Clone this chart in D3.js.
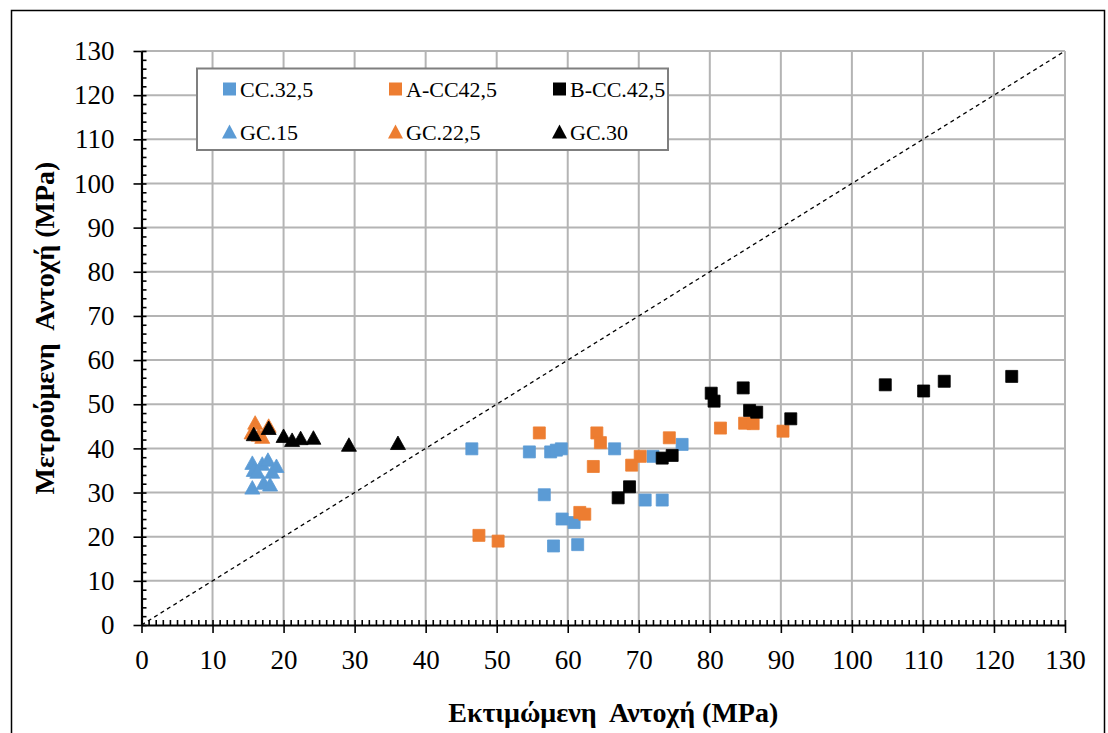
<!DOCTYPE html>
<html>
<head>
<meta charset="utf-8">
<script src="https://cdn.jsdelivr.net/npm/d3@7"></script>
<style>
  body { margin: 0; background: #fff; }
  svg text { font-family: "Liberation Serif", "Times New Roman", serif; fill: #000; }
</style>
</head>
<body>
<svg id="chart" width="1108" height="733"></svg>
<script>
// Estimated strength (x, MPa) vs measured strength (y, MPa), one array per mix
const cc325 = [
  [46.5, 39.9], [54.6, 39.2], [57.6, 39.2], [58.4, 39.6], [59.1, 39.9],
  [66.6, 39.9], [72.0, 38.2], [76.1, 40.9], [56.7, 29.5], [59.2, 24.0],
  [60.9, 23.2], [58.0, 17.9], [61.4, 18.2], [70.9, 28.3], [73.3, 28.3]
];
const acc425 = [
  [56.0, 43.5], [64.1, 43.5], [64.6, 41.3], [63.6, 35.9], [70.2, 38.2],
  [69.0, 36.2], [74.3, 42.4], [81.5, 44.6], [47.5, 20.3], [50.2, 19.0],
  [61.7, 25.5], [62.4, 25.1], [84.9, 45.7], [86.1, 45.6], [90.3, 43.9]
];
const bcc425 = [
  [67.1, 28.8], [68.7, 31.3], [73.3, 37.8], [74.7, 38.4], [80.2, 52.5],
  [80.6, 50.7], [84.7, 53.7], [85.6, 48.6], [86.6, 48.2], [91.4, 46.7],
  [104.7, 54.4], [110.1, 53.0], [113.0, 55.2], [122.5, 56.3]
];
const gc15 = [
  [15.6, 36.6], [17.0, 36.4], [17.8, 37.3], [19.0, 35.9], [15.8, 35.0],
  [16.3, 34.6], [18.4, 34.6], [15.6, 31.0], [17.2, 32.1], [18.1, 31.7]
];
const gc225 = [
  [16.0, 45.7], [17.9, 45.0], [15.5, 43.5], [17.0, 42.5], [16.5, 43.0]
];
const gc30 = [
  [15.8, 43.1], [17.9, 44.5], [20.0, 42.7], [21.2, 41.8], [22.4, 42.2],
  [24.2, 42.3], [29.2, 40.7], [36.1, 41.1]
];

const axisTicks = [0, 10, 20, 30, 40, 50, 60, 70, 80, 90, 100, 110, 120, 130];
const xMinorStep = 1;
const yMinorStep = 2;

const seriesNames = ["CC.32,5", "A-CC42,5", "B-CC.42,5", "GC.15", "GC.22,5", "GC.30"];
const seriesColors = ["#5b9bd5", "#ed7d31", "#000000", "#5b9bd5", "#ed7d31", "#000000"];
const seriesShapes = ["square", "square", "square", "triangle", "triangle", "triangle"];
const seriesData = [cc325, acc425, bcc425, gc15, gc225, gc30];

const xTitle = "Εκτιμώμενη  Αντοχή (MPa)";
const yTitle = "Μετρούμενη  Αντοχή (MPa)";

const svg = d3.select("#chart");

// outer chart frame
svg.append("rect")
  .attr("x", 11.5).attr("y", 10.5)
  .attr("width", 1093).attr("height", 740)
  .attr("fill", "#fff").attr("stroke", "#000").attr("stroke-width", 1.5);

const x = d3.scaleLinear().domain([0, 130]).range([141.5, 1065]);
const y = d3.scaleLinear().domain([0, 130]).range([625, 51]);

// gridlines
const grid = svg.append("g").attr("stroke", "#b4b4b4").attr("stroke-width", 2);
grid.selectAll("line.v").data(axisTicks.filter(d => d > 0)).join("line")
  .attr("class", "v")
  .attr("x1", d => x(d)).attr("x2", d => x(d))
  .attr("y1", y(130)).attr("y2", y(0));
grid.selectAll("line.h").data(axisTicks.filter(d => d > 0)).join("line")
  .attr("class", "h")
  .attr("x1", x(0)).attr("x2", x(130))
  .attr("y1", d => y(d)).attr("y2", d => y(d));

// 1:1 reference line
svg.append("line")
  .attr("x1", x(0)).attr("y1", y(0))
  .attr("x2", x(130)).attr("y2", y(130))
  .attr("stroke", "#000").attr("stroke-width", 1.3)
  .attr("stroke-dasharray", "4,3.5");

// axes
function styleAxis(g) {
  g.select(".domain").attr("stroke", "#000").attr("stroke-width", 2.2);
  g.selectAll(".tick line").attr("stroke", "#000").attr("stroke-width", 1.6);
  g.selectAll(".tick text").attr("font-size", 27).attr("font-family", "Liberation Serif, serif");
}

const xMinor = d3.range(0, 130 + 0.001, xMinorStep);
const yMinor = d3.range(0, 130 + 0.001, yMinorStep);

svg.append("g").attr("transform", `translate(0,${y(0)})`)
  .call(d3.axisTop(x).tickValues(xMinor).tickSize(5).tickFormat(""))
  .call(g => { g.select(".domain").remove(); g.selectAll(".tick line").attr("stroke", "#000").attr("stroke-width", 1.6); });

svg.append("g").attr("transform", `translate(${x(0)},0)`)
  .call(d3.axisRight(y).tickValues(yMinor).tickSize(5).tickFormat(""))
  .call(g => { g.select(".domain").remove(); g.selectAll(".tick line").attr("stroke", "#000").attr("stroke-width", 1.6); });

svg.append("g").attr("transform", `translate(0,${y(0)})`)
  .call(d3.axisBottom(x).tickValues(axisTicks).tickSizeInner(8).tickSizeOuter(0).tickPadding(17))
  .call(styleAxis);

svg.append("g").attr("transform", `translate(${x(0)},0)`)
  .call(d3.axisLeft(y).tickValues(axisTicks).tickSizeInner(8).tickSizeOuter(0).tickPadding(19))
  .call(styleAxis);

// markers
const squarePath = "M-6,-6H6V6H-6Z";
const trianglePath = "M0,-7.5L7.5,6L-7.5,6Z";

const marks = svg.append("g");
seriesData.forEach((data, i) => {
  marks.append("g").selectAll("path").data(data).join("path")
    .attr("d", seriesShapes[i] === "square" ? squarePath : trianglePath)
    .attr("transform", d => `translate(${x(d[0])},${y(d[1])})`)
    .attr("fill", seriesColors[i])
    .attr("stroke", seriesColors[i])
    .attr("stroke-width", 0.8);
});

// legend
const legend = svg.append("g");
legend.append("rect")
  .attr("x", 197).attr("y", 68.5).attr("width", 471).attr("height", 81.5)
  .attr("fill", "#fff").attr("stroke", "#7f7f7f").attr("stroke-width", 2);

const legendCols = [223, 389, 553];
const legendRows = [89, 132];
seriesNames.forEach((name, i) => {
  const cx = legendCols[i % 3] + 6.5;
  const cy = legendRows[Math.floor(i / 3)];
  const g = legend.append("g").attr("transform", `translate(${cx},${cy})`);
  g.append("path")
    .attr("d", seriesShapes[i] === "square" ? "M-6.5,-6.5H6.5V6.5H-6.5Z" : "M0,-7.5L7.5,6.5L-7.5,6.5Z")
    .attr("fill", seriesColors[i]);
  g.append("text")
    .attr("x", 10.5).attr("y", 0).attr("dy", "0.35em")
    .attr("font-size", 22)
    .text(name);
});

// axis titles
svg.append("text")
  .attr("x", (x(0) + x(130)) / 2 + 10).attr("y", 722)
  .attr("text-anchor", "middle")
  .attr("font-size", 28).attr("font-weight", "bold")
  .style("white-space", "pre")
  .text(xTitle);

svg.append("text")
  .attr("transform", `translate(54,${(y(0) + y(130)) / 2 - 10}) rotate(-90)`)
  .attr("text-anchor", "middle")
  .attr("font-size", 28).attr("font-weight", "bold")
  .style("white-space", "pre")
  .text(yTitle);
</script>
</body>
</html>
